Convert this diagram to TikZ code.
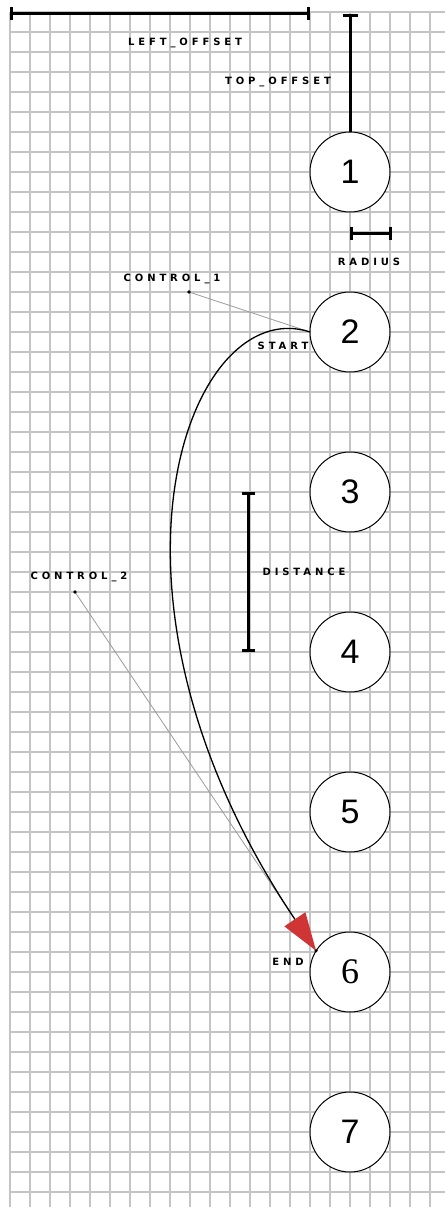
\documentclass[tikz,border=0pt]{standalone}
\usepackage{fontspec}
\setmainfont{Liberation Sans}
\newfontfamily\pixfont{DejaVu Sans}[LetterSpace=39]
\newfontfamily\numserif{Liberation Serif}
\usepackage{xcolor}
\definecolor{clGrid}{HTML}{C4C4C4}
\definecolor{clTip}{HTML}{D03535}
\definecolor{clGuide}{HTML}{9A9A9A}
\usetikzlibrary{arrows.meta}
\tikzset{
  gridline/.style={draw=clGrid, line width=2.6pt},
  slot/.style={circle, draw=black, line width=1pt, fill=white, minimum size=80pt,
               inner sep=0pt, outer sep=0pt, font=\fontsize{34}{34}\selectfont},
  measure/.style={{Bar[width=13pt]}-{Bar[width=13pt]}, line width=3pt},
  tag/.style={font=\pixfont\bfseries\fontsize{10}{11}\selectfont, inner sep=0pt},
  guide/.style={draw=clGuide, line width=0.8pt},
  route/.style={-{Triangle[length=38pt,width=25pt,color=clTip]}, line width=1.3pt},
}

\begin{document}
\begin{tikzpicture}[x=1pt,y=-1pt]
  \useasboundingbox (0,0) rectangle (445,1207);
  % grid
  \foreach \x in {10,30,...,430} \draw[gridline] (\x,12) -- (\x,1207);
  \foreach \y in {12,32,...,1192} \draw[gridline] (10,\y) -- (445,\y);
  % slots
  \foreach \n in {1,...,5} \node[slot] (c\n) at (350,12+160*\n) {\n};
  \node[slot, font=\numserif\fontsize{36}{36}\selectfont] (c6) at (350,972) {6};
  \node[slot] (c7) at (350,1132) {7};
  % measures
  \coordinate (origin) at (10,14);
  \coordinate (radL) at (350,233);
  \coordinate (distcol) at (248,0);
  \draw[measure] (origin) -- (origin -| c1.west);
  \draw[{Bar[width=15pt]}-, line width=3pt] (origin -| c1) -- (c1.north);
  \draw[measure] (radL) -- ++(42,0);
  \draw[measure] (c3 -| distcol) -- (c4 -| distcol);
  \node[tag] (lblLeft) at (185,43) {LEFT\_OFFSET};
  \node[tag] (lblTop) at (278,82) {TOP\_OFFSET};
  \node[tag] (lblRadius) at (369,262) {RADIUS};
  \node[tag] (lblDist) at (304,572) {DISTANCE};
  % bezier with its handles
  \coordinate (ctrl1) at (189,292);
  \coordinate (ctrl2) at (75,592);
  \draw[guide] (ctrl1) -- (c2.west);
  \draw[guide] (ctrl2) -- (c6.148);
  \fill (ctrl1) circle (1.8pt);
  \fill (ctrl2) circle (1.8pt);
  \draw[route] (c2.west) .. controls (ctrl1) and (ctrl2) .. (c6.148);
  \fill (c6.148) circle (1.8pt);
  \node[tag] (lblCtrl1) at (172,279) {CONTROL\_1};
  \node[tag] (lblCtrl2) at (79,577) {CONTROL\_2};
  \node[tag] (lblStart) at (283,346) {START};
  \node[tag] (lblEnd) at (288,962) {END};
\end{tikzpicture}
\end{document}
